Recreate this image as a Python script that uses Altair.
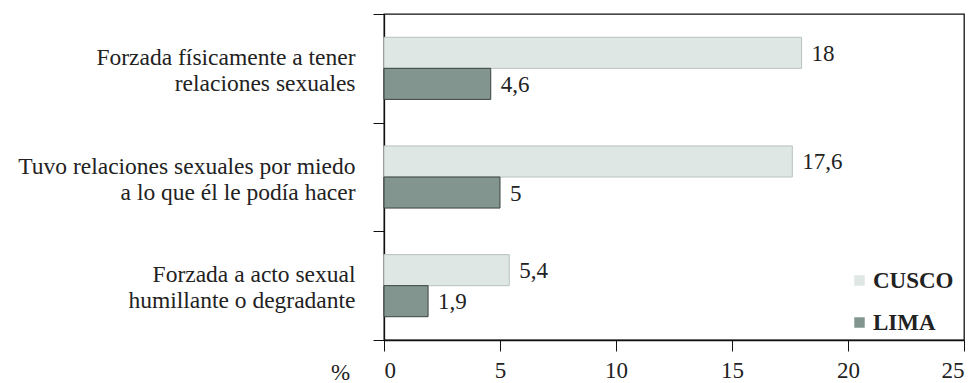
import altair as alt
import pandas as pd

# Violence categories (label lines separated by "\n")
categories = [
    "Forzada físicamente a tener\nrelaciones sexuales",
    "Tuvo relaciones sexuales por miedo\na lo que él le podía hacer",
    "Forzada a acto sexual\nhumillante o degradante",
]
regions = ["CUSCO", "LIMA"]
cusco = [18, 17.6, 5.4]
lima = [4.6, 5, 1.9]
cusco_labels = ["18", "17,6", "5,4"]
lima_labels = ["4,6", "5", "1,9"]
x_ticks = [0, 5, 10, 15, 20, 25]

rows = []
for i, cat in enumerate(categories):
    rows.append({"cat": cat, "region": "CUSCO", "value": cusco[i], "label": cusco_labels[i]})
    rows.append({"cat": cat, "region": "LIMA", "value": lima[i], "label": lima_labels[i]})
df = pd.DataFrame(rows)

FONT = "'Liberation Serif', 'DejaVu Serif', serif"

y_enc = alt.Y(
    "cat:N",
    sort=categories,
    scale=alt.Scale(paddingInner=0, paddingOuter=0),
    axis=alt.Axis(
        title=None,
        labelExpr="split(datum.label, '\\n')",
        labelFont=FONT,
        labelFontSize=23.5,
        labelColor="#222",
        labelLineHeight=26,
        labelPadding=18,
        labelOffset=-11,
        tickBand="extent",
        tickSize=11,
        tickColor="#111",
        domainColor="#111",
        domainWidth=1.3,
        labelLimit=400,
    ),
)
yoff_enc = alt.YOffset(
    "region:N",
    sort=regions,
    scale=alt.Scale(paddingInner=0, paddingOuter=0.75),
)
x_enc = alt.X(
    "value:Q",
    scale=alt.Scale(domain=[0, 25], nice=False),
    axis=alt.Axis(
        values=x_ticks,
        title="%",
        titleFont=FONT,
        titleFontSize=23,
        titleFontWeight="normal",
        titleColor="#222",
        titleX=-44,
        titleY=32,
        titleAlign="center",
        titleBaseline="middle",
        titleAngle=0,
        labelFont=FONT,
        labelFontSize=23,
        labelColor="#222",
        labelPadding=8,
        tickSize=11,
        tickColor="#111",
        domainColor="#111",
        domainWidth=1.3,
        grid=False,
    ),
)

bars = alt.Chart(df).mark_bar(strokeWidth=1).encode(
    x=x_enc,
    y=y_enc,
    yOffset=yoff_enc,
    color=alt.Color(
        "region:N",
        sort=regions,
        scale=alt.Scale(domain=regions, range=["#dfe7e4", "#82968f"]),
        legend=alt.Legend(
            title=None,
            orient="none",
            legendX=464,
            legendY=255,
            symbolType="square",
            symbolSize=110,
            symbolStrokeWidth=0,
            labelFont=FONT,
            labelFontSize=23,
            labelFontWeight="bold",
            labelColor="#222",
            rowPadding=18,
            labelOffset=2,
        ),
    ),
    stroke=alt.Stroke(
        "region:N",
        sort=regions,
        scale=alt.Scale(domain=regions, range=["#b8c2bf", "#3a4340"]),
        legend=None,
    ),
)

texts = alt.Chart(df).mark_text(
    align="left", baseline="middle", dx=10, dy=1, font=FONT, fontSize=23, color="#222"
).encode(
    x="value:Q",
    y=alt.Y("cat:N", sort=categories),
    yOffset=alt.YOffset("region:N", sort=regions),
    text="label:N",
)

chart = (
    alt.layer(bars, texts)
    .properties(
        width=580,
        height=326,
        autosize=alt.AutoSizeParams(type="none"),
        padding={"left": 384, "top": 14, "right": 10, "bottom": 43},
        background="white",
    )
    .configure(font=FONT)
    .configure_view(stroke="#111", strokeWidth=1.3)
)

chart.save("out.html", embed_options={"renderer": "svg", "actions": False})
